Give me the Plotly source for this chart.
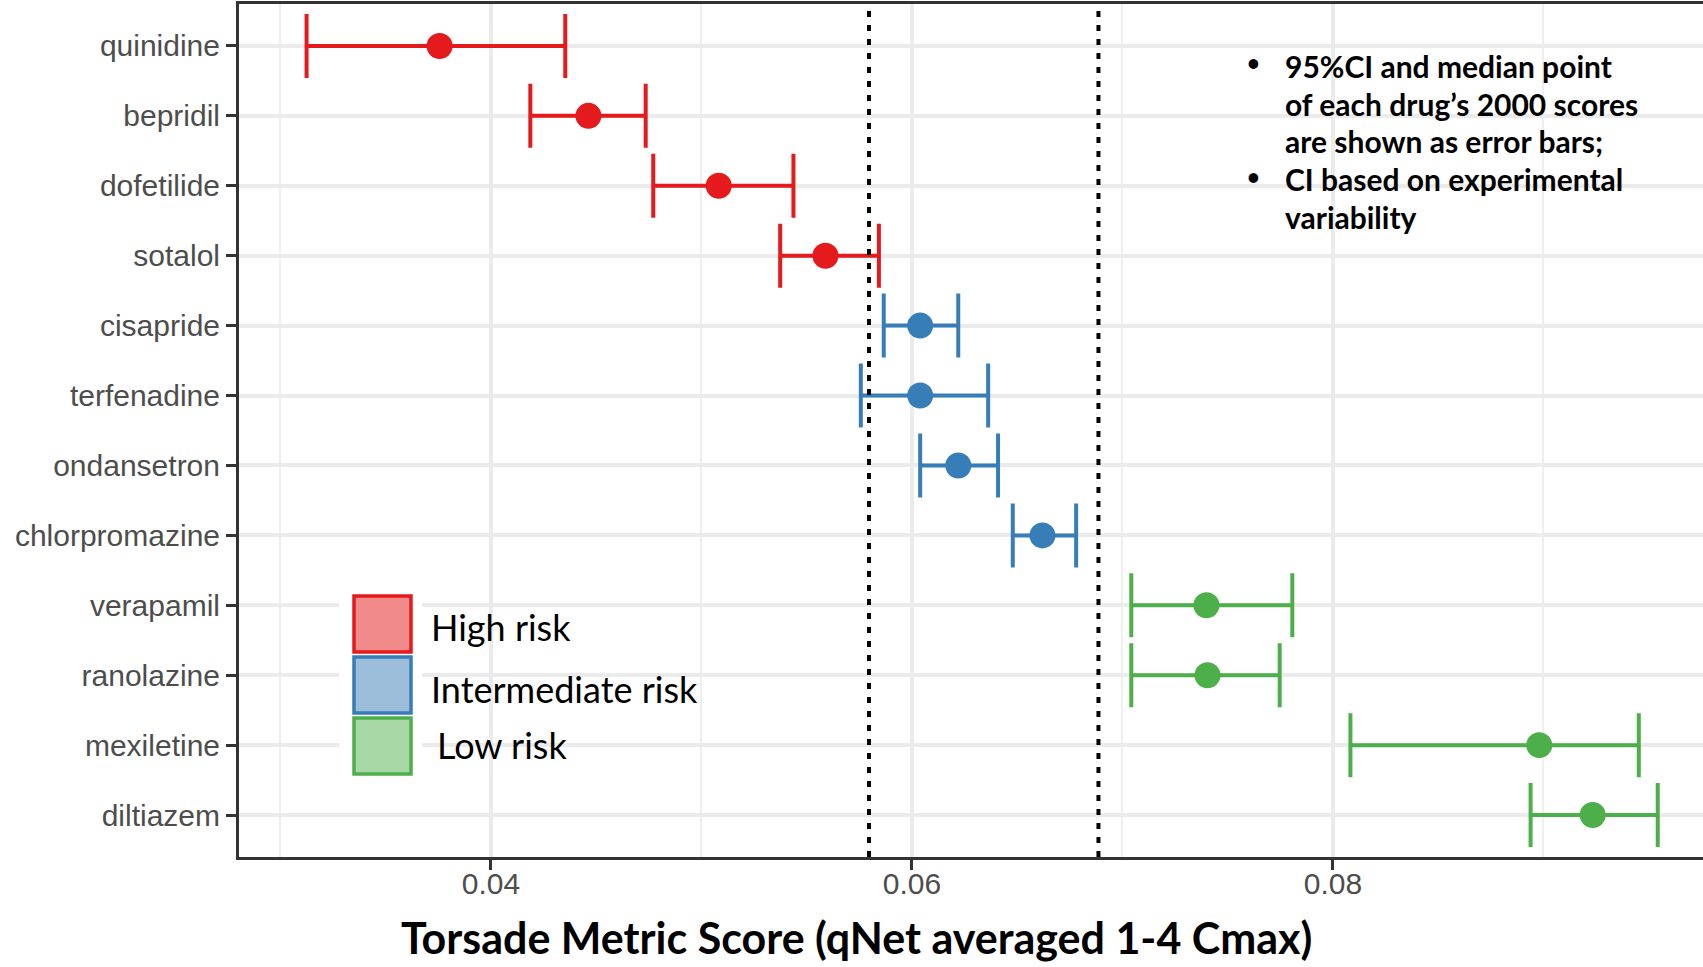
import plotly.graph_objects as go

# ---------------- data ----------------
drugs = ["quinidine", "bepridil", "dofetilide", "sotalol",
         "cisapride", "terfenadine", "ondansetron", "chlorpromazine",
         "verapamil", "ranolazine", "mexiletine", "diltiazem"]
risk = ["High", "High", "High", "High",
        "Intermediate", "Intermediate", "Intermediate", "Intermediate",
        "Low", "Low", "Low", "Low"]
median = [0.03756, 0.04463, 0.05082, 0.05589,
          0.06039, 0.06039, 0.06220, 0.06620,
          0.07399, 0.07404, 0.08980, 0.09234]
ci_low = [0.03124, 0.04187, 0.04771, 0.05374,
          0.05866, 0.05757, 0.06039, 0.06479,
          0.07042, 0.07042, 0.08083, 0.08939]
ci_high = [0.04353, 0.04735, 0.05437, 0.05843,
           0.06220, 0.06362, 0.06409, 0.06780,
           0.07807, 0.07747, 0.09453, 0.09543]
thresholds = [0.05796, 0.06886]
x_ticks = [0.04, 0.06, 0.08]
x_tick_labels = ["0.04", "0.06", "0.08"]
risk_levels = ["High", "Intermediate", "Low"]
legend_labels = ["High risk", "Intermediate risk", "Low risk"]
note_lines = ["95%CI and median point", "of each drug\u2019s 2000 scores",
              "are shown as error bars;", "CI based on experimental", "variability"]
note_bullets = [True, False, False, True, False]

colors = {"High": "#E41A1C", "Intermediate": "#377EB8", "Low": "#4DAF4A"}
fills = {"High": "#F08A8B", "Intermediate": "#9CBEDB", "Low": "#A6D7A4"}

# ---------------- figure ----------------
W, H = 1703, 967
ML, MR, MT, MB = 239, 0, 4, 110
PW, PH = W - ML - MR, H - MT - MB

def px_x(x):
    return (x - ML) / PW

def px_y(y):
    return (H - MB - y) / PH

fig = go.Figure()

for lvl in risk_levels:
    idx = [i for i, r in enumerate(risk) if r == lvl]
    xs = [median[i] for i in idx]
    ys = [drugs[i] for i in idx]
    plus = [ci_high[i] - median[i] for i in idx]
    minus = [median[i] - ci_low[i] for i in idx]
    fig.add_trace(go.Scatter(
        x=xs, y=ys, mode="markers",
        marker=dict(size=26, color=colors[lvl], line=dict(width=0)),
        error_x=dict(type="data", symmetric=False, array=plus, arrayminus=minus,
                     color=colors[lvl], thickness=4, width=32),
        showlegend=False, cliponaxis=False,
    ))

for t in thresholds:
    fig.add_shape(type="line", xref="x", yref="paper", x0=t, x1=t, y0=0, y1=1,
                  line=dict(color="black", width=4, dash="6px,8px"), layer="above")

# legend keys
box_top = [594, 655, 716]
text_y = [627, 689, 745]
text_x = [429, 429, 435]
# white background behind keys
fig.add_shape(type="rect", xref="paper", yref="paper",
              x0=px_x(339), x1=px_x(422), y0=px_y(590), y1=px_y(778),
              fillcolor="white", line=dict(width=0), layer="above")
for k, lvl in enumerate(risk_levels):
    fig.add_shape(type="rect", xref="paper", yref="paper",
                  x0=px_x(354), x1=px_x(411), y0=px_y(box_top[k] + 2), y1=px_y(box_top[k] + 58),
                  fillcolor=fills[lvl], line=dict(color=colors[lvl], width=3.5), layer="above")
    fig.add_annotation(xref="paper", yref="paper", x=px_x(text_x[k]), y=px_y(text_y[k]),
                       xanchor="left", yanchor="middle", showarrow=False,
                       text=legend_labels[k],
                       font=dict(family="Lato", size=36, color="black"))

# note text
for k, line in enumerate(note_lines):
    yc = 66 + 37.7 * k
    fig.add_annotation(xref="paper", yref="paper", x=px_x(1283), y=px_y(yc),
                       xanchor="left", yanchor="middle", showarrow=False,
                       text="<b>" + line + "</b>",
                       font=dict(family="Lato", size=30, color="black"))
    if note_bullets[k]:
        fig.add_annotation(xref="paper", yref="paper", x=px_x(1253), y=px_y(yc - 3),
                           xanchor="center", yanchor="middle", showarrow=False,
                           text="<b>\u2022</b>",
                           font=dict(family="Lato", size=22, color="black"))

# x-axis title
fig.add_annotation(xref="paper", yref="paper", x=px_x(856), y=px_y(937),
                   xanchor="center", yanchor="middle", showarrow=False,
                   text="<b>Torsade Metric Score (qNet averaged 1-4 Cmax)</b>",
                   font=dict(family="Lato", size=43, color="black"))

fig.update_layout(
    width=W, height=H,
    margin=dict(l=ML, r=MR, t=MT, b=MB, pad=0),
    paper_bgcolor="white", plot_bgcolor="white",
    font=dict(family="Liberation Sans, Arial", color="#4D4D4D"),
    xaxis=dict(range=[0.02803, 0.09758], tickvals=x_ticks, ticktext=x_tick_labels,
               showgrid=True, gridcolor="#EBEBEB", gridwidth=3.5,
               minor=dict(dtick=0.01, tick0=0, showgrid=True, gridcolor="#EFEFEF", gridwidth=1.5),
               ticks="outside", ticklen=10, tickwidth=3, tickcolor="#333333",
               tickfont=dict(size=30, color="#4D4D4D"), ticklabelstandoff=-12,
               showline=True, linecolor="#333333", linewidth=3, mirror=True,
               zeroline=False),
    yaxis=dict(type="category", categoryorder="array", categoryarray=drugs[::-1],
               range=[-0.6, 11.6],
               showgrid=True, gridcolor="#EBEBEB", gridwidth=3.5,
               ticks="outside", ticklen=10, tickwidth=3, tickcolor="#333333",
               tickfont=dict(size=30, color="#4D4D4D"),
               showline=True, linecolor="#333333", linewidth=3,
               zeroline=False),
)

fig.write_html("out.html")
